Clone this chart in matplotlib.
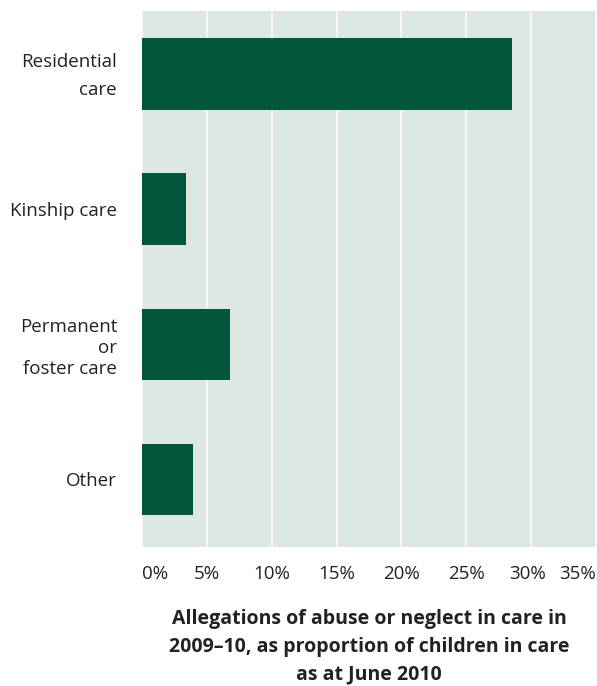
import matplotlib.pyplot as plt
import matplotlib.transforms as mtransforms

plt.rcParams["font.family"] = ["Open Sans", "DejaVu Sans"]

categories = ["Residential\ncare", "Kinship care", "Permanent\nor\nfoster care", "Other"]
values = [28.5, 3.4, 6.8, 3.9]
ticks = [0, 5, 10, 15, 20, 25, 30, 35]
tick_labels = ["0%", "5%", "10%", "15%", "20%", "25%", "30%", "35%"]

bar_col = "#03553c"
bg_col = "#dde7e1"

fig = plt.figure(figsize=(5.97, 6.86), dpi=100)
ax = fig.add_axes([142/597, 1 - 547/686, (596-142)/597, (547-11)/686])
ax.set_facecolor(bg_col)

pos = list(range(len(categories)))
ax.barh(pos, values, height=0.533, color=bar_col, zorder=3)

ax.set_xlim(0, 35)
ax.set_ylim(3.5, -0.47)
ax.set_xticks(ticks)
ax.set_xticklabels(tick_labels, fontsize=13.5, color="#222222")
ax.set_yticks(pos)
ax.set_yticklabels(categories, fontsize=13.5, color="#222222", ha="right")
ax.tick_params(axis="y", length=0, pad=18)
ax.tick_params(axis="x", length=0, pad=13)
ax.grid(axis="x", color="#f8faf9", linewidth=1.2, zorder=1)
ax.set_axisbelow(True)
for sp in ax.spines.values():
    sp.set_visible(False)

yl = ax.get_yticklabels()
yl[0].set_linespacing(1.65)
yl[0].set_transform(yl[0].get_transform() + mtransforms.ScaledTranslation(0, 5/100, fig.dpi_scale_trans))
yl[2].set_linespacing(1.2)

xl = ax.get_xticklabels()
xl[0].set_ha("left")
xl[-1].set_ha("right")
xl[-2].set_transform(xl[-2].get_transform() + mtransforms.ScaledTranslation(-4/100, 0, fig.dpi_scale_trans))

ax.set_xlabel("Allegations of abuse or neglect in care in\n2009\u201310, as proportion of children in care\nas at June 2010",
              fontsize=14, fontweight="bold", color="#222222", labelpad=19, linespacing=1.5)

fig.savefig("out.png", dpi=100)
